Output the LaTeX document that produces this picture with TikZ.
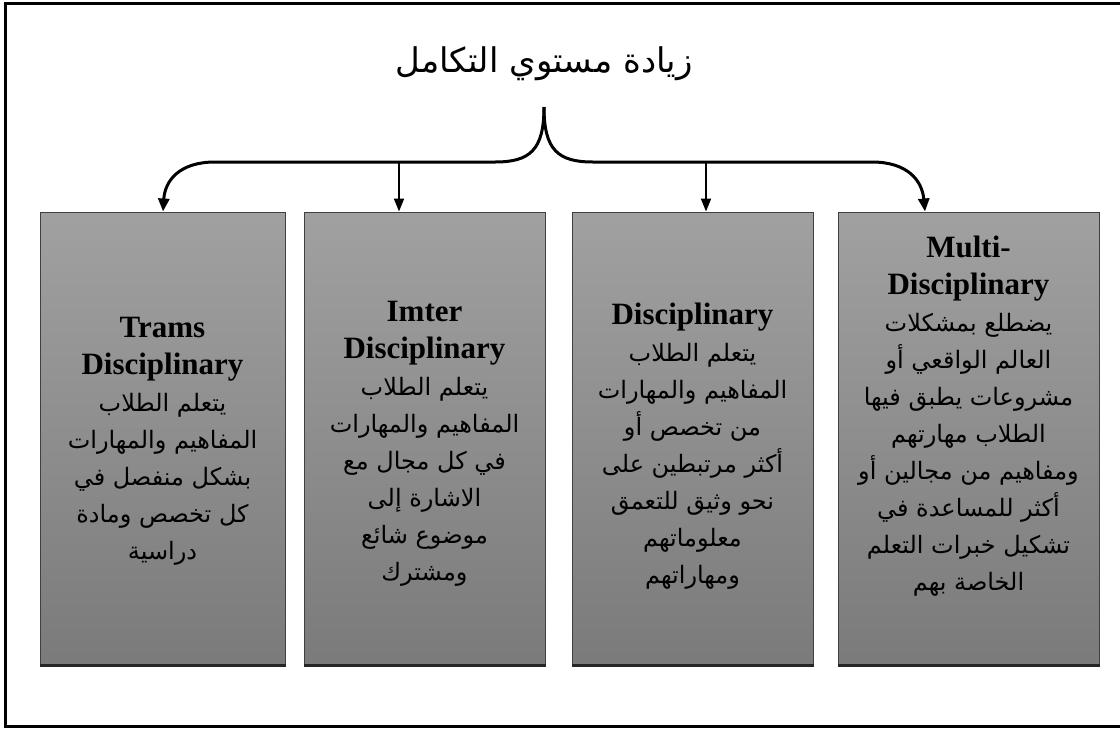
\documentclass[tikz,border=0pt]{standalone}
\usepackage{fontspec}
\setmainfont{Liberation Serif}
\newfontfamily\arabicfont[Script=Arabic]{DejaVu Sans}
\TeXXeTstate=1
\usetikzlibrary{arrows.meta,calc}
\newcommand{\ar}[1]{{\arabicfont\beginR #1\endR}}
\newcommand{\en}[1]{{\fontsize{31}{37}\selectfont\bfseries #1}}
\begin{document}
\begin{tikzpicture}[x=1pt,y=-1pt,
  box/.style={draw=black!75, line width=1pt, top color=black!37, bottom color=black!52,
    minimum width=241pt, minimum height=453pt, inner sep=0pt},
  txt/.style={align=center, font=\fontsize{24}{37}\selectfont, inner sep=0pt},
  brace/.style={line width=3pt, -{Triangle[length=13pt,width=11pt]}},
  arr/.style={line width=2pt, -{Triangle[length=13pt,width=10pt]}},
  shadowline/.style={line width=2.5pt, black!85}]
\useasboundingbox (0,0) rectangle (1120,729);
\draw[line width=3pt] (1121,3) -- (5,3) -- (5,726) -- (1121,726);

\node (t) at (544,64) {\fontsize{34}{40}\selectfont\ar{زيادة مستوي التكامل}};

\node[box, minimum width=245pt] (b1) at (162.5,438.5) {};
\node[box] (b2) at (424.5,438.5) {};
\node[box] (b3) at (692.5,438.5) {};
\node[box, minimum width=261pt] (b4) at (968.5,438.5) {};
\foreach \b in {b1,b2,b3,b4}{\draw[shadowline] (\b.south west) -- (\b.south east);}

\node[txt] (x1) at (162.5,441) {\en{Trams}\\\en{Disciplinary}\\\ar{يتعلم الطلاب}\\\ar{المفاهيم والمهارات}\\\ar{بشكل منفصل في}\\\ar{كل تخصص ومادة}\\\ar{دراسية}};
\node[txt] (x2) at (424.5,444) {\en{Imter}\\\en{Disciplinary}\\\ar{يتعلم الطلاب}\\\ar{المفاهيم والمهارات}\\\ar{في كل مجال مع}\\\ar{الاشارة إلى}\\\ar{موضوع شائع}\\\ar{ومشترك}};
\node[txt] (x3) at (692.5,446) {\en{Disciplinary}\\\ar{يتعلم الطلاب}\\\ar{المفاهيم والمهارات}\\\ar{من تخصص أو}\\\ar{أكثر مرتبطين على}\\\ar{نحو وثيق للتعمق}\\\ar{معلوماتهم}\\\ar{ومهاراتهم}};
\node[txt] (x4) at (968.5,416) {\en{Multi-}\\\en{Disciplinary}\\\ar{يضطلع بمشكلات}\\\ar{العالم الواقعي أو}\\\ar{مشروعات يطبق فيها}\\\ar{الطلاب مهارتهم}\\\ar{ومفاهيم من مجالين أو}\\\ar{أكثر للمساعدة في}\\\ar{تشكيل خبرات التعلم}\\\ar{الخاصة بهم}};

\coordinate (tip) at (544,107);
\coordinate (j1) at (163,162);
\coordinate (j2) at (399,162);
\coordinate (j3) at (706,162);
\coordinate (j4) at (925,162);
\draw[brace] (tip) .. controls (544,150) and (530,162) .. (495,162) -- (215,162)
  .. controls (180,162) and (165,180) .. (j1 |- b1.north);
\draw[brace] (tip) .. controls (544,150) and (558,162) .. (593,162) -- (872,162)
  .. controls (907,162) and (922,180) .. (j4 |- b4.north);
\draw[arr] (j2) -- (j2 |- b2.north);
\draw[arr] (j3) -- (j3 |- b3.north);
\end{tikzpicture}
\end{document}
